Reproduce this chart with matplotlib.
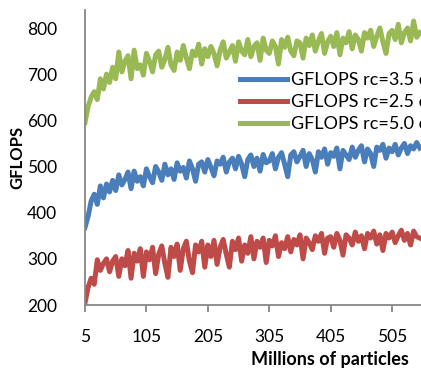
import matplotlib
matplotlib.use("Agg")
import matplotlib.pyplot as plt
import numpy as np

x_start, x_step = 5, 5
green = [595, 630, 650, 662, 645, 690, 668, 700, 682, 715,
         690, 748, 705, 728, 740, 690, 752, 712, 720, 698,
         745, 728, 705, 742, 750, 715, 732, 758, 720, 708,
         748, 730, 762, 735, 712, 750, 740, 765, 722, 755,
         738, 760, 745, 718, 752, 770, 735, 748, 762, 728,
         770, 750, 742, 775, 738, 760, 768, 730, 778, 752,
         745, 772, 760, 722, 775, 758, 780, 750, 740, 772,
         768, 735, 778, 762, 785, 750, 772, 788, 745, 770,
         782, 760, 790, 742, 778, 768, 792, 755, 785, 775,
         750, 790, 778, 795, 760, 782, 800, 770, 745, 788,
         795, 775, 808, 768, 790, 800, 772, 815, 780, 790]
blue = [368, 392, 425, 440, 418, 458, 432, 462, 445, 470,
        448, 482, 460, 472, 488, 452, 490, 468, 478, 458,
        495, 478, 465, 500, 488, 470, 505, 482, 495, 472,
        508, 490, 498, 475, 512, 495, 468, 505, 510, 488,
        515, 498, 480, 512, 505, 520, 488, 510, 518, 495,
        522, 505, 478, 515, 525, 500, 518, 490, 526, 508,
        512, 528, 495, 520, 530, 505, 478, 525, 532, 510,
        522, 535, 500, 528, 515, 488, 532, 520, 538, 505,
        530, 522, 540, 495, 535, 525, 515, 542, 520, 535,
        545, 510, 538, 528, 500, 542, 535, 548, 518, 540,
        532, 548, 525, 540, 550, 528, 545, 538, 552, 540]
red = [205, 238, 258, 245, 298, 275, 290, 300, 272, 295,
       305, 262, 300, 285, 318, 258, 312, 295, 322, 262,
       315, 298, 325, 268, 310, 328, 290, 260, 325, 305,
       332, 275, 322, 338, 295, 270, 330, 315, 338, 282,
       330, 305, 340, 288, 325, 342, 310, 282, 338, 320,
       345, 295, 330, 312, 348, 300, 338, 325, 345, 292,
       340, 328, 350, 305, 335, 322, 348, 315, 342, 330,
       352, 300, 345, 335, 320, 350, 338, 355, 312, 345,
       348, 325, 355, 340, 308, 352, 345, 330, 358, 338,
       350, 322, 355, 345, 360, 332, 352, 318, 355, 345,
       358, 335, 350, 362, 340, 355, 330, 360, 348, 345]
labels = ["GFLOPS rc=3.5 cutoff", "GFLOPS rc=2.5 cutoff", "GFLOPS rc=5.0 cutoff"]
xticks = [5, 105, 205, 305, 405, 505]
yticks = [200, 300, 400, 500, 600, 700, 800]

x = x_start + x_step * np.arange(len(green))

plt.rcParams['font.family'] = ['Lato', 'DejaVu Sans']
fig = plt.figure(figsize=(4.21, 3.71), dpi=100)
ax = fig.add_axes([85/421, 66/371, 336/421, 295/371])

c_blue, c_red, c_green = '#4A7EBB', '#BE4B48', '#98B954'
lw = 3.6
lb, = ax.plot(x, blue, color=c_blue, lw=lw, solid_joinstyle='round')
lr, = ax.plot(x, red, color=c_red, lw=lw, solid_joinstyle='round')
lg, = ax.plot(x, green, color=c_green, lw=lw, solid_joinstyle='round')

ax.set_xlim(5, 552)
ax.set_ylim(200, 839)
ax.set_xticks(xticks)
ax.set_yticks(yticks)
for s in ['top', 'right']:
    ax.spines[s].set_visible(False)
for s in ['left', 'bottom']:
    ax.spines[s].set_color('#868686')
    ax.spines[s].set_linewidth(1.3)
ax.tick_params(axis='y', length=0, pad=20, labelsize=12.5)
ax.tick_params(axis='x', length=5, width=1.3, color='#868686', pad=12, labelsize=12.5, direction='out')

fig.text(17/421, 1 - 157/371, 'GFLOPS', fontsize=12, fontweight='bold',
         ha='center', va='center', rotation=90)
fig.text(330/421, 1 - 360/371, 'Millions of particles', fontsize=13, fontweight='bold',
         ha='center', va='center')

fig.legend([lb, lr, lg], labels, loc='center left', bbox_to_anchor=(240/421, 1 - 102/371),
           frameon=False, fontsize=13, handlelength=2.6, handletextpad=0.2, labelspacing=0.33,
           borderaxespad=0, borderpad=0)

fig.savefig('out.png', dpi=100)
